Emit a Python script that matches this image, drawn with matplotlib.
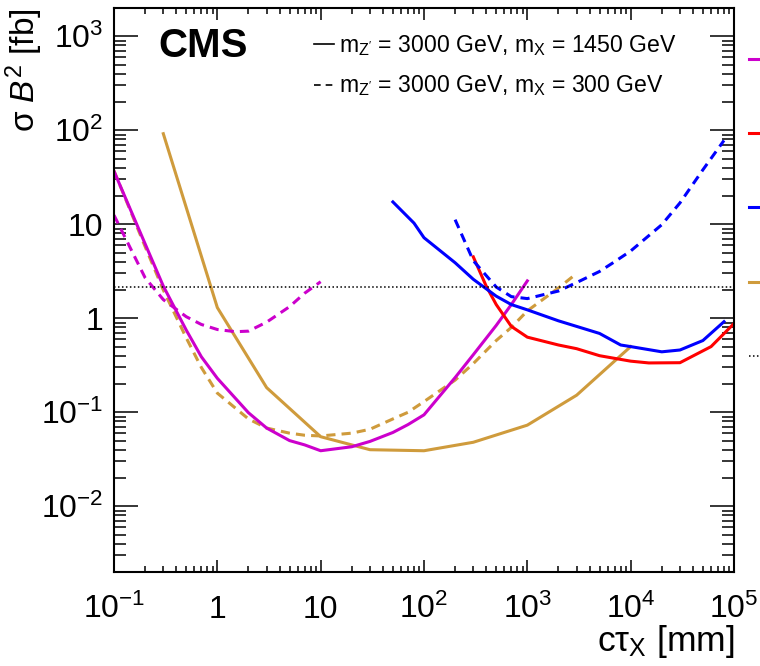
import matplotlib
matplotlib.use("Agg")
import matplotlib.pyplot as plt
import matplotlib.ticker as mticker
import matplotlib.transforms as mtrans
from matplotlib.lines import Line2D

plt.rcParams['font.family'] = ['Liberation Sans', 'DejaVu Sans']
plt.rcParams['mathtext.fontset'] = 'custom'
plt.rcParams['mathtext.rm'] = 'Liberation Sans'
plt.rcParams['mathtext.it'] = 'Liberation Sans:italic'
plt.rcParams['mathtext.bf'] = 'Liberation Sans:bold'

# ---------------- data ----------------
x_mag_s = [0.1, 0.2, 0.3, 0.5, 0.7, 1, 2, 3, 5, 7, 10, 20, 30, 50, 70, 100, 200, 300, 500, 700, 1000]
y_mag_s = [36.7, 6.2, 2.2, 0.75, 0.39, 0.23, 0.099, 0.068, 0.050, 0.045, 0.039, 0.043, 0.049,
           0.061, 0.074, 0.094, 0.234, 0.41, 0.84, 1.40, 2.5]

x_mag_d = [0.1, 0.2, 0.3, 0.5, 0.7, 1, 1.5, 2, 3, 5, 7, 10]
y_mag_d = [12.5, 2.7, 1.58, 1.04, 0.86, 0.76, 0.72, 0.73, 0.91, 1.33, 1.85, 2.45]

x_gold_s = [0.3, 1, 3, 10, 30, 100, 300, 1000, 3000, 10000]
y_gold_s = [92, 1.3, 0.183, 0.055, 0.040, 0.039, 0.048, 0.073, 0.152, 0.50]

x_gold_d = [0.1, 0.2, 0.3, 0.5, 0.7, 1, 2, 3, 5, 7, 10, 20, 30, 50, 70, 100, 200, 300, 500, 700,
            1000, 2000, 3000]
y_gold_d = [37, 5.8, 2.0, 0.62, 0.30, 0.16, 0.085, 0.068, 0.060, 0.057, 0.056, 0.060, 0.066,
            0.085, 0.10, 0.13, 0.22, 0.33, 0.58, 0.80, 1.2, 2.1, 3.0]

x_blue_s = [50, 80, 100, 200, 300, 500, 700, 1000, 2000, 5000, 8000, 10000, 20000, 30000, 50000, 80000]
y_blue_s = [17.3, 10.3, 7.2, 3.9, 2.6, 1.72, 1.4, 1.23, 0.94, 0.69, 0.52, 0.50, 0.44, 0.46, 0.58, 0.92]

x_blue_d = [200, 300, 500, 700, 1000, 2000, 3000, 5000, 7000, 10000, 20000, 30000, 50000, 80000]
y_blue_d = [11.2, 4.1, 2.15, 1.7, 1.62, 1.95, 2.4, 3.15, 4.0, 5.2, 9.9, 16.9, 38, 78]

x_red = [300, 400, 500, 700, 1000, 2000, 3000, 5000, 10000, 15000, 30000, 60000, 100000]
y_red = [4.5, 2.2, 1.4, 0.82, 0.63, 0.52, 0.475, 0.40, 0.35, 0.335, 0.337, 0.50, 0.88]

ref_level = 2.15

x_ticks = [1e-1, 1, 10, 1e2, 1e3, 1e4, 1e5]
x_ticklabels = ['$10^{-1}$', '1', '10', '$10^{2}$', '$10^{3}$', '$10^{4}$', '$10^{5}$']
y_ticks = [1e-2, 1e-1, 1, 10, 1e2, 1e3]
y_ticklabels = ['$10^{-2}$', '$10^{-1}$', '1', '10', '$10^{2}$', '$10^{3}$']

leg_labels = [r"$\mathrm{m_{Z'}}$ = 3000 GeV, $\mathrm{m_{X}}$ = 1450 GeV",
              r"$\mathrm{m_{Z'}}$ = 3000 GeV, $\mathrm{m_{X}}$ = 300 GeV"]

# ---------------- style ----------------
C_MAG = '#cc00cc'
C_RED = '#ff0000'
C_BLUE = '#0000ff'
C_GOLD = '#cf9b3c'
LW = 2.2
DASH = (0, (3, 2))

W, H = 760, 666
fig = plt.figure(figsize=(W / 100, H / 100), dpi=100)
L, R, B, T = 114, 734, 572, 8
ax = fig.add_axes([L / W, 1 - B / H, (R - L) / W, (B - T) / H])
ax.set_xscale('log')
ax.set_yscale('log')
ax.set_xlim(0.1, 1e5)
ax.set_ylim(2e-3, 2e3)

ax.plot(x_gold_s, y_gold_s, color=C_GOLD, lw=LW)
ax.plot(x_gold_d, y_gold_d, color=C_GOLD, lw=LW, ls=DASH)
ax.plot(x_mag_s, y_mag_s, color=C_MAG, lw=LW)
ax.plot(x_mag_d, y_mag_d, color=C_MAG, lw=LW, ls=DASH)
ax.plot(x_red, y_red, color=C_RED, lw=LW)
ax.plot(x_blue_s, y_blue_s, color=C_BLUE, lw=LW)
ax.plot(x_blue_d, y_blue_d, color=C_BLUE, lw=LW, ls=DASH)
ax.axhline(ref_level, color='black', lw=1.1, ls=(0, (1, 1.6)))

for s in ax.spines.values():
    s.set_linewidth(1.5)

ax.xaxis.set_minor_locator(mticker.LogLocator(base=10, subs=range(2, 10), numticks=50))
ax.yaxis.set_minor_locator(mticker.LogLocator(base=10, subs=range(2, 10), numticks=50))
ax.xaxis.set_minor_formatter(mticker.NullFormatter())
ax.yaxis.set_minor_formatter(mticker.NullFormatter())

ax.tick_params(axis='both', which='both', direction='in', top=True, right=True, width=1.1,
               labelsize=23)
ax.tick_params(axis='x', which='major', length=8.6, pad=33)
ax.tick_params(axis='x', which='minor', length=4.3)
ax.tick_params(axis='y', which='major', length=17.3, pad=8)
ax.tick_params(axis='y', which='minor', length=8.6)

ax.set_xticks(x_ticks)
ax.set_xticklabels(x_ticklabels)
ax.set_yticks(y_ticks)
ax.set_yticklabels(y_ticklabels)

for lab in ax.get_xticklabels():
    lab.set_va('baseline')
yoff = mtrans.ScaledTranslation(0, -0.115, fig.dpi_scale_trans)
for lab in ax.get_yticklabels():
    lab.set_va('baseline')
    lab.set_transform(lab.get_transform() + yoff)

ax.set_ylabel(r'σ $\mathit{B}^{2}$ [fb]', fontsize=24, loc='top')
ax.yaxis.set_label_coords((45 - L) / (R - L), 1.0)
ax.set_xlabel(r'c$\mathrm{\tau_{X}}$ [mm]', fontsize=25.5, loc='right')
ax.xaxis.set_label_coords(1.0, (B - 623) / (B - T))

ax.text((158 - L) / (R - L), 1 - (57 - T) / (B - T), 'CMS', fontsize=29, fontweight='bold',
        transform=ax.transAxes, va='baseline', ha='left')

handles = [Line2D([], [], color='black', lw=1.2),
           Line2D([], [], color='black', lw=1.2, ls=(0, (4, 3)))]
ax.legend(handles, leg_labels, loc='upper left',
          bbox_to_anchor=((314 - L) / (R - L), 1 - (33 - T) / (B - T)),
          frameon=False, fontsize=16.6, handlelength=0.85, handletextpad=0.25,
          borderpad=0, borderaxespad=0, labelspacing=0.68)

# legend stubs on the right (cut by figure edge)
for yy, col, ls in [(59, C_MAG, '-'), (133, C_RED, '-'), (207, C_BLUE, '-'), (282, C_GOLD, '-'),
                    (356, 'black', (0, (1, 1.6)))]:
    fig.add_artist(Line2D([749 / W, 1.05], [1 - yy / H, 1 - yy / H], transform=fig.transFigure,
                          color=col, lw=LW if col != 'black' else 1.1, ls=ls, clip_on=False))

fig.savefig('out.png', dpi=100)
